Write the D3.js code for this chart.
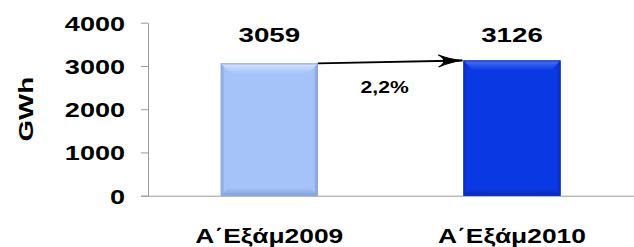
<!DOCTYPE html>
<html>
<head>
<meta charset="utf-8">
<script src="https://cdn.jsdelivr.net/npm/d3@7"></script>
<style>
  body { margin: 0; background: #fff; }
  text { font-family: Arial, "Liberation Sans", sans-serif; font-weight: bold; fill: #000; }
</style>
</head>
<body>
<div id="chart"></div>
<script>
var categories = ["Α΄Εξάμ2009", "Α΄Εξάμ2010"];
var values = [3059, 3126];
var yTicks = [0, 1000, 2000, 3000, 4000];
var changeLabel = "2,2%";

var barColors = [
    { base: "#a6c3f9", light: "#d6e4fd", dark: "#849fd6", edge: "#8ba6dc" },
    { base: "#0a39e4", light: "#4a72f2", dark: "#0a2cb4", edge: "#0a30c0" }
];

var W = 634, H = 247;
var margin = {top: 22.7, right: 0, bottom: 51.3, left: 148};
var stretch = 1.32;

var svg = d3.select("#chart").append("svg")
    .attr("width", W)
    .attr("height", H);

var defs = svg.append("defs");

// open chevron arrow head
defs.append("marker")
    .attr("id", "arrow")
    .attr("viewBox", "0 0 26 14")
    .attr("refX", 25)
    .attr("refY", 7)
    .attr("markerWidth", 26)
    .attr("markerHeight", 14)
    .attr("markerUnits", "userSpaceOnUse")
    .attr("orient", "auto")
  .append("path")
    .attr("d", "M1,1 Q14,6 25,7 Q14,8 1,13 Q12,7 1,1 Z")
    .style("fill", "#000")
    .style("stroke", "#000")
    .style("stroke-width", 1);

barColors.forEach(function(c, i) {
    var top = defs.append("linearGradient").attr("id", "top" + i)
        .attr("x1", 0).attr("y1", 0).attr("x2", 0).attr("y2", 1);
    top.append("stop").attr("offset", "0%").attr("stop-color", c.light);
    top.append("stop").attr("offset", "100%").attr("stop-color", c.base);
    var bot = defs.append("linearGradient").attr("id", "bot" + i)
        .attr("x1", 0).attr("y1", 0).attr("x2", 0).attr("y2", 1);
    bot.append("stop").attr("offset", "0%").attr("stop-color", c.base);
    bot.append("stop").attr("offset", "100%").attr("stop-color", c.dark);
});

var x = d3.scaleBand()
    .domain(categories)
    .range([margin.left, W - margin.right - 0.7])
    .paddingInner(0.6)
    .paddingOuter(0.3);

var y = d3.scaleLinear()
    .domain([0, 4000])
    .range([H - margin.bottom, margin.top]);

// y axis
var yAxis = svg.append("g")
    .attr("transform", "translate(" + margin.left + ",0)")
    .call(d3.axisLeft(y).tickValues(yTicks).tickFormat(d3.format("d"))
        .tickSize(7).tickPadding(0).tickSizeOuter(0));

yAxis.select(".domain").attr("stroke", "#9a9a9a");
yAxis.selectAll(".tick line").attr("stroke", "#9a9a9a");
yAxis.selectAll(".tick text")
    .attr("x", -23 / stretch)
    .attr("dy", "0.36em")
    .attr("transform", "scale(" + stretch + ",1)")
    .style("font-size", "20.5px")
    .style("font-family", "Arial, 'Liberation Sans', sans-serif")
    .style("font-weight", "bold")
    .attr("fill", "#000");

// x axis line
svg.append("line")
    .attr("x1", margin.left - 7)
    .attr("x2", W)
    .attr("y1", y(0) + 0.5)
    .attr("y2", y(0) + 0.5)
    .attr("stroke", "#9a9a9a");

// bars
var bars = svg.selectAll("g.bar")
    .data(values)
    .enter()
  .append("g")
    .attr("class", "bar");

var bw = x.bandwidth();
var bevelTop = 10, bevelBot = 8, bevelSide = 3;

bars.each(function(d, i) {
    var g = d3.select(this);
    var x0 = x(categories[i]), x1 = x0 + bw;
    var y0 = y(d), y1 = y(0);
    var c = barColors[i];

    g.append("rect")
        .attr("x", x0).attr("y", y0)
        .attr("width", bw).attr("height", y1 - y0)
        .style("fill", c.base);

    // side bevels
    g.append("rect")
        .attr("x", x0).attr("y", y0)
        .attr("width", bevelSide).attr("height", y1 - y0)
        .style("fill", c.edge).style("opacity", 0.6);
    g.append("rect")
        .attr("x", x1 - bevelSide).attr("y", y0)
        .attr("width", bevelSide).attr("height", y1 - y0)
        .style("fill", c.edge).style("opacity", 0.8);

    // top bevel
    g.append("path")
        .attr("d", "M" + x0 + "," + y0 + "L" + x1 + "," + y0 +
            "L" + (x1 - bevelTop) + "," + (y0 + bevelTop) +
            "L" + (x0 + bevelTop) + "," + (y0 + bevelTop) + "Z")
        .style("fill", "url(#top" + i + ")");

    // bottom bevel
    g.append("path")
        .attr("d", "M" + x0 + "," + y1 + "L" + x1 + "," + y1 +
            "L" + (x1 - bevelBot) + "," + (y1 - bevelBot) +
            "L" + (x0 + bevelBot) + "," + (y1 - bevelBot) + "Z")
        .style("fill", "url(#bot" + i + ")");

    g.append("rect")
        .attr("x", x0 + 0.5).attr("y", y0 + 0.5)
        .attr("width", bw - 1).attr("height", y1 - y0 - 1)
        .style("fill", "none")
        .style("stroke", c.edge)
        .style("stroke-width", 1);
});

// value labels
svg.selectAll("text.value")
    .data(values)
    .enter()
  .append("text")
    .attr("class", "value")
    .attr("transform", function(d, i) {
        return "translate(" + (x(categories[i]) + bw / 2) + "," + 41.5 + ") scale(" + stretch + ",1)";
    })
    .attr("text-anchor", "middle")
    .style("font-size", "21px")
    .text(function(d) { return d; });

// category labels
svg.selectAll("text.cat")
    .data(categories)
    .enter()
  .append("text")
    .attr("class", "cat")
    .attr("transform", function(d) {
        return "translate(" + (x(d) + bw / 2) + "," + 243 + ") scale(" + stretch + ",1)";
    })
    .attr("text-anchor", "middle")
    .style("font-size", "20px")
    .text(function(d) { return d; });

// y axis title
svg.append("text")
    .attr("transform", "translate(33," + ((y(0) + y(4000)) / 2) + ") rotate(-90) scale(1.42,1)")
    .attr("text-anchor", "middle")
    .style("font-size", "19.5px")
    .text("GWh");

// change arrow
var ax0 = x(categories[0]) + bw, ay0 = y(values[0]);
var ax1 = x(categories[1]), ay1 = y(values[1]);
svg.append("line")
    .attr("x1", ax0).attr("y1", ay0)
    .attr("x2", ax1 - 1).attr("y2", ay1)
    .attr("stroke", "#000")
    .attr("stroke-width", 1.8)
    .attr("marker-end", "url(#arrow)");

svg.append("text")
    .attr("transform", "translate(" + ((ax0 + ax1) / 2 - 6) + ",93) scale(" + stretch + ",1)")
    .attr("text-anchor", "middle")
    .style("font-size", "16px")
    .text(changeLabel);
</script>
</body>
</html>
